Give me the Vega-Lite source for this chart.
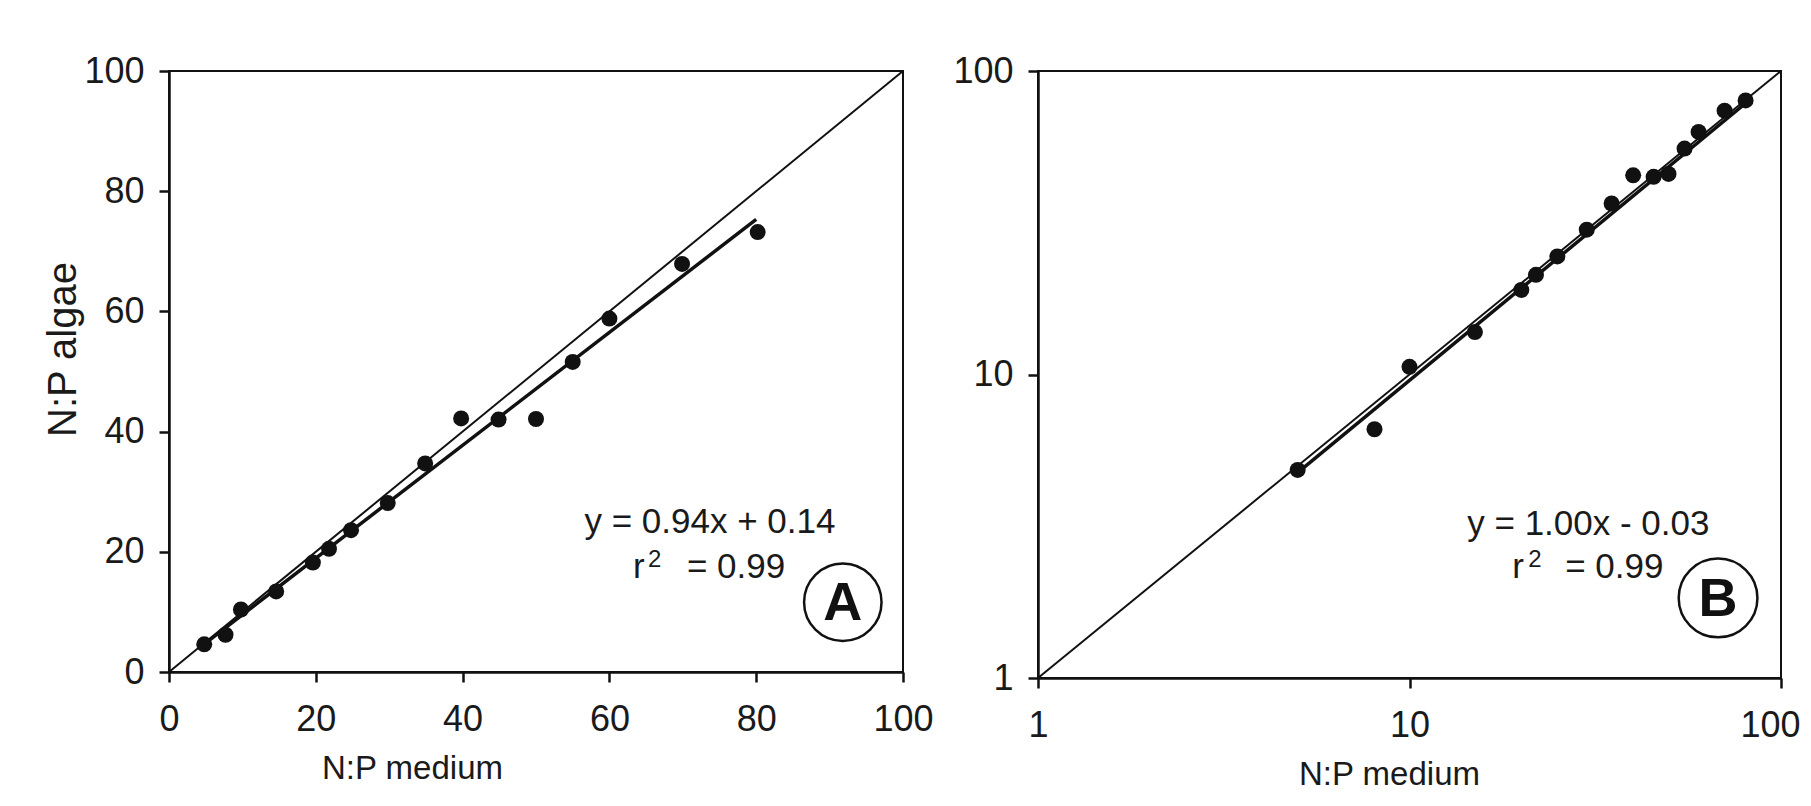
{
  "$schema": "https://vega.github.io/schema/vega-lite/v6.json",
  "background": "white",
  "padding": {"left": 42, "top": 52, "right": 5, "bottom": 0},
  "spacing": 16,
  "config": {
    "font": "Liberation Sans",
    "view": {"stroke": "#111", "strokeWidth": 2},
    "axis": {
      "grid": false, "domainColor": "#111", "domainWidth": 2.5,
      "tickColor": "#111", "tickWidth": 2.5, "tickSize": 10,
      "labelColor": "#1a1a1a", "labelFontSize": 36, "labelFlush": false,
      "labelFont": "Liberation Sans", "titleFont": "Liberation Sans",
      "titleColor": "#1a1a1a", "titleFontWeight": "normal"
    },
    "axisX": {"labelPadding": 20, "titleFontSize": 33, "titlePadding": 15},
    "axisY": {"labelPadding": 15, "titleFontSize": 40, "titlePadding": 0}
  },
  "datasets": {
    "identityA": [{"medium": 0, "algae": 0}, {"medium": 100, "algae": 100}],
    "fitA": [{"medium": 4, "algae": 3.9}, {"medium": 80, "algae": 75.3}],
    "pointsA": [
      {"medium": 4.8, "algae": 4.6}, {"medium": 7.7, "algae": 6.2},
      {"medium": 9.8, "algae": 10.4}, {"medium": 14.6, "algae": 13.4},
      {"medium": 19.6, "algae": 18.2}, {"medium": 21.8, "algae": 20.5},
      {"medium": 24.8, "algae": 23.6}, {"medium": 29.8, "algae": 28.1},
      {"medium": 34.9, "algae": 34.7}, {"medium": 39.8, "algae": 42.2},
      {"medium": 44.9, "algae": 42.0}, {"medium": 50.0, "algae": 42.1},
      {"medium": 55.0, "algae": 51.6}, {"medium": 60.0, "algae": 58.8},
      {"medium": 69.9, "algae": 67.9}, {"medium": 80.2, "algae": 73.2}
    ],
    "identityB": [{"medium": 1, "algae": 1}, {"medium": 100, "algae": 100}],
    "fitB": [{"medium": 5, "algae": 4.75}, {"medium": 80, "algae": 78}],
    "pointsB": [
      {"medium": 5.0, "algae": 4.85}, {"medium": 8.05, "algae": 6.6},
      {"medium": 10.0, "algae": 10.6}, {"medium": 15.0, "algae": 13.8},
      {"medium": 20.0, "algae": 19.0}, {"medium": 21.9, "algae": 21.3},
      {"medium": 25.0, "algae": 24.5}, {"medium": 30.0, "algae": 30.0},
      {"medium": 35.0, "algae": 36.6}, {"medium": 40.0, "algae": 45.3},
      {"medium": 45.4, "algae": 44.8}, {"medium": 49.8, "algae": 45.8},
      {"medium": 55.0, "algae": 55.5}, {"medium": 60.0, "algae": 63.0},
      {"medium": 70.5, "algae": 74.0}, {"medium": 80.3, "algae": 80.0}
    ]
  },
  "hconcat": [
    {
      "width": 734,
      "height": 601,
      "layer": [
        {
          "data": {"name": "identityA"},
          "mark": {"type": "line", "color": "#111", "strokeWidth": 2},
          "encoding": {
            "x": {
              "field": "medium", "type": "quantitative",
              "scale": {"domain": [0, 100], "nice": false, "zero": false},
              "axis": {"values": [0, 20, 40, 60, 80, 100], "title": "N:P medium", "titleX": 243}
            },
            "y": {
              "field": "algae", "type": "quantitative",
              "scale": {"domain": [0, 100], "nice": false, "zero": false},
              "axis": {"values": [0, 20, 40, 60, 80, 100], "title": "N:P algae", "titleY": 278}
            }
          }
        },
        {
          "data": {"name": "fitA"},
          "mark": {"type": "line", "color": "#111", "strokeWidth": 3.5},
          "encoding": {"x": {"field": "medium", "type": "quantitative"}, "y": {"field": "algae", "type": "quantitative"}}
        },
        {
          "data": {"name": "pointsA"},
          "mark": {"type": "point", "shape": "circle", "filled": true, "size": 256, "color": "#111", "opacity": 1},
          "encoding": {"x": {"field": "medium", "type": "quantitative"}, "y": {"field": "algae", "type": "quantitative"}}
        },
        {
          "data": {"values": [{"label": "y = 0.94x + 0.14"}]},
          "mark": {"type": "text", "fontSize": 35, "align": "center", "baseline": "alphabetic", "color": "#1a1a1a"},
          "encoding": {"x": {"datum": 73.7}, "y": {"datum": 23.1}, "text": {"field": "label"}}
        },
        {
          "data": {"values": [{"label": "r"}]},
          "mark": {"type": "text", "fontSize": 35, "align": "left", "baseline": "alphabetic", "color": "#1a1a1a"},
          "encoding": {"x": {"datum": 63.2}, "y": {"datum": 15.6}, "text": {"field": "label"}}
        },
        {
          "data": {"values": [{"label": "2"}]},
          "mark": {"type": "text", "fontSize": 24, "align": "left", "baseline": "alphabetic", "dx": 15, "dy": -11, "color": "#1a1a1a"},
          "encoding": {"x": {"datum": 63.2}, "y": {"datum": 15.6}, "text": {"field": "label"}}
        },
        {
          "data": {"values": [{"label": "= 0.99"}]},
          "mark": {"type": "text", "fontSize": 35, "align": "left", "baseline": "alphabetic", "dx": 54, "color": "#1a1a1a"},
          "encoding": {"x": {"datum": 63.2}, "y": {"datum": 15.6}, "text": {"field": "label"}}
        },
        {
          "data": {"values": [{"label": "A"}]},
          "mark": {"type": "point", "shape": "circle", "filled": false, "size": 6000, "stroke": "#111", "strokeWidth": 2.5, "opacity": 1},
          "encoding": {"x": {"datum": 91.8}, "y": {"datum": 11.6}}
        },
        {
          "data": {"values": [{"label": "A"}]},
          "mark": {"type": "text", "fontSize": 54, "fontWeight": "bold", "align": "center", "baseline": "middle", "dy": 2, "color": "#111"},
          "encoding": {"x": {"datum": 91.8}, "y": {"datum": 11.6}, "text": {"field": "label"}}
        }
      ]
    },
    {
      "width": 743,
      "height": 607,
      "layer": [
        {
          "data": {"name": "identityB"},
          "mark": {"type": "line", "color": "#111", "strokeWidth": 2},
          "encoding": {
            "x": {
              "field": "medium", "type": "quantitative",
              "scale": {"type": "log", "domain": [1, 100], "nice": false},
              "axis": {
                "values": [1, 10, 100], "format": "d", "title": "N:P medium", "titleX": 351,
                "labelOffset": {"condition": {"test": "datum.value == 100", "value": -11}, "value": 0}
              }
            },
            "y": {
              "field": "algae", "type": "quantitative",
              "scale": {"type": "log", "domain": [1, 100], "nice": false},
              "axis": {"values": [1, 10, 100], "format": "d", "title": null}
            }
          }
        },
        {
          "data": {"name": "fitB"},
          "mark": {"type": "line", "color": "#111", "strokeWidth": 3.5},
          "encoding": {"x": {"field": "medium", "type": "quantitative"}, "y": {"field": "algae", "type": "quantitative"}}
        },
        {
          "data": {"name": "pointsB"},
          "mark": {"type": "point", "shape": "circle", "filled": true, "size": 256, "color": "#111", "opacity": 1},
          "encoding": {"x": {"field": "medium", "type": "quantitative"}, "y": {"field": "algae", "type": "quantitative"}}
        },
        {
          "data": {"values": [{"label": "y = 1.00x - 0.03"}]},
          "mark": {"type": "text", "fontSize": 35, "align": "center", "baseline": "alphabetic", "color": "#1a1a1a"},
          "encoding": {"x": {"datum": 30.3}, "y": {"datum": 2.96}, "text": {"field": "label"}}
        },
        {
          "data": {"values": [{"label": "r"}]},
          "mark": {"type": "text", "fontSize": 35, "align": "left", "baseline": "alphabetic", "color": "#1a1a1a"},
          "encoding": {"x": {"datum": 18.9}, "y": {"datum": 2.136}, "text": {"field": "label"}}
        },
        {
          "data": {"values": [{"label": "2"}]},
          "mark": {"type": "text", "fontSize": 24, "align": "left", "baseline": "alphabetic", "dx": 16, "dy": -11, "color": "#1a1a1a"},
          "encoding": {"x": {"datum": 18.9}, "y": {"datum": 2.136}, "text": {"field": "label"}}
        },
        {
          "data": {"values": [{"label": "= 0.99"}]},
          "mark": {"type": "text", "fontSize": 35, "align": "left", "baseline": "alphabetic", "dx": 53, "color": "#1a1a1a"},
          "encoding": {"x": {"datum": 18.9}, "y": {"datum": 2.136}, "text": {"field": "label"}}
        },
        {
          "data": {"values": [{"label": "B"}]},
          "mark": {"type": "point", "shape": "circle", "filled": false, "size": 6200, "stroke": "#111", "strokeWidth": 2.5, "opacity": 1},
          "encoding": {"x": {"datum": 67.7}, "y": {"datum": 1.835}}
        },
        {
          "data": {"values": [{"label": "B"}]},
          "mark": {"type": "text", "fontSize": 54, "fontWeight": "bold", "align": "center", "baseline": "middle", "dy": 2, "color": "#111"},
          "encoding": {"x": {"datum": 67.7}, "y": {"datum": 1.835}, "text": {"field": "label"}}
        }
      ]
    }
  ]
}
